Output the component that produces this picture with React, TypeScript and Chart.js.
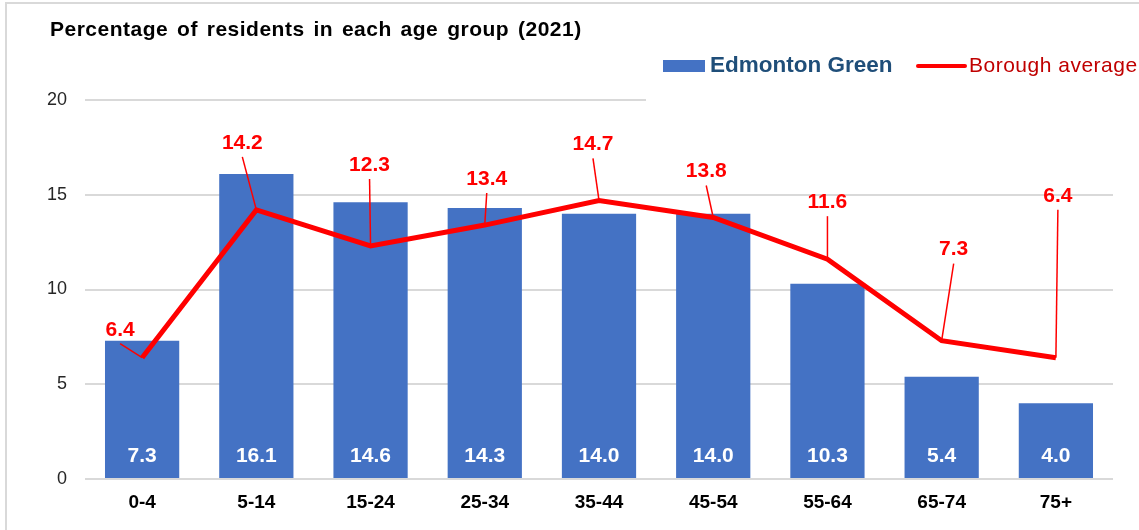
import React, { useEffect, useRef } from "react";
import { Chart, registerables } from "chart.js";

Chart.register(...registerables);

const categories = ["0-4", "5-14", "15-24", "25-34", "35-44", "45-54", "55-64", "65-74", "75+"];
const edmontonGreen = [7.3, 16.1, 14.6, 14.3, 14.0, 14.0, 10.3, 5.4, 4.0];
const boroughAverage = [6.4, 14.2, 12.3, 13.4, 14.7, 13.8, 11.6, 7.3, 6.4];
const yMin = 0;
const yMax = 20;
const yStep = 5;

const titleText = "Percentage of residents in each age group (2021)";
const barLegend = "Edmonton Green";
const lineLegend = "Borough average";

// label placement (pixel offsets of the line labels from their points)
const lineLabelOffsets: [number, number][] = [
  [-22, -28], [-14, -67], [-1, -81], [2, -46], [-6, -56], [-7, -46], [0, -57], [12, -91], [2, -162],
];

const FONT = '"Liberation Sans", Arial, sans-serif';
const BAR_COLOR = "#4472c4";
const LINE_COLOR = "#ff0000";

const decorPlugin = {
  id: "decor",
  beforeDraw(chart: any) {
    const ctx = chart.ctx;
    ctx.save();
    ctx.fillStyle = "#ffffff";
    ctx.fillRect(0, 0, chart.width, chart.height);
    ctx.strokeStyle = "#d9d9d9";
    ctx.lineWidth = 2;
    ctx.beginPath();
    ctx.moveTo(6, chart.height);
    ctx.lineTo(6, 3);
    ctx.lineTo(chart.width, 3);
    ctx.stroke();
    ctx.fillStyle = "#000000";
    ctx.font = `bold 21px ${FONT}`;
    ctx.textAlign = "left";
    ctx.textBaseline = "middle";
    (ctx as any).letterSpacing = "0.5px";
    (ctx as any).wordSpacing = "2.5px";
    ctx.fillText(titleText, 50, 30);
    (ctx as any).letterSpacing = "0px";
    (ctx as any).wordSpacing = "0px";
    ctx.restore();
  },
  afterDatasetsDraw(chart: any) {
    const ctx = chart.ctx;
    ctx.save();
    ctx.textAlign = "center";
    ctx.textBaseline = "middle";
    // bar labels
    const barMeta = chart.getDatasetMeta(0);
    ctx.font = `bold 21px ${FONT}`;
    ctx.fillStyle = "#ffffff";
    barMeta.data.forEach((bar: any, i: number) => {
      ctx.fillText(edmontonGreen[i].toFixed(1), bar.x, bar.base - 22);
    });
    // line labels with leader lines
    const lineMeta = chart.getDatasetMeta(1);
    ctx.strokeStyle = LINE_COLOR;
    ctx.fillStyle = LINE_COLOR;
    ctx.lineWidth = 1.5;
    lineMeta.data.forEach((pt: any, i: number) => {
      const [dx, dy] = lineLabelOffsets[i];
      const tx = pt.x + dx;
      const ty = pt.y + dy;
      ctx.beginPath();
      ctx.moveTo(tx, ty + 14);
      ctx.lineTo(pt.x, pt.y);
      ctx.stroke();
      ctx.fillText(boroughAverage[i].toFixed(1), tx, ty);
    });
    ctx.restore();
  },
  afterDraw(chart: any) {
    const ctx = chart.ctx;
    ctx.save();
    ctx.fillStyle = "#ffffff";
    ctx.fillRect(646, 45, chart.width - 646, 58);
    ctx.fillStyle = BAR_COLOR;
    ctx.fillRect(663, 60, 42, 12);
    ctx.font = `bold 22.5px ${FONT}`;
    ctx.fillStyle = "#1f4e79";
    ctx.textAlign = "left";
    ctx.textBaseline = "middle";
    ctx.fillText(barLegend, 710, 66);
    ctx.strokeStyle = LINE_COLOR;
    ctx.lineWidth = 4;
    ctx.lineCap = "round";
    ctx.beginPath();
    ctx.moveTo(918, 66);
    ctx.lineTo(965, 66);
    ctx.stroke();
    ctx.font = `21px ${FONT}`;
    ctx.fillStyle = "#c00000";
    (ctx as any).letterSpacing = "0.5px";
    ctx.fillText(lineLegend, 969, 66);
    (ctx as any).letterSpacing = "0px";
    ctx.restore();
  },
};

export default function App() {
  const ref = useRef<HTMLCanvasElement | null>(null);
  useEffect(() => {
    if (!ref.current) return;
    const chart = new Chart(ref.current, {
      type: "bar",
      data: {
        labels: categories,
        datasets: [
          {
            type: "bar",
            label: barLegend,
            data: edmontonGreen,
            backgroundColor: BAR_COLOR,
            barPercentage: 0.65,
            categoryPercentage: 1,
            order: 1,
          },
          {
            type: "line",
            label: lineLegend,
            data: boroughAverage,
            borderColor: LINE_COLOR,
            backgroundColor: LINE_COLOR,
            borderWidth: 5,
            pointRadius: 0,
            tension: 0,
            order: 0,
          } as any,
        ],
      },
      options: {
        responsive: false,
        animation: false,
        devicePixelRatio: 1,
        layout: { padding: { top: 100, left: 0, right: 26, bottom: 0 } },
        plugins: {
          legend: { display: false },
          title: { display: false },
          tooltip: { enabled: false },
        },
        scales: {
          x: {
            grid: { display: false, drawTicks: false },
            border: { display: false },
            ticks: {
              font: { family: FONT, size: 19, weight: "bold" },
              color: "#000000",
              padding: 12,
            },
            afterFit: (scale: any) => {
              scale.height = 51;
            },
          },
          y: {
            min: yMin,
            max: yMax,
            grid: { color: "#d9d9d9", lineWidth: 2, drawTicks: false },
            border: { display: false },
            ticks: {
              stepSize: yStep,
              font: { family: FONT, size: 18 },
              color: "#262626",
              padding: 18,
            },
            afterFit: (scale: any) => {
              scale.width = 85;
            },
          },
        },
      },
      plugins: [decorPlugin],
    });
    return () => chart.destroy();
  }, []);
  return (
    <div style={{ position: "absolute", left: 0, top: 0, width: 1139, height: 530 }}>
      <canvas ref={ref} width={1139} height={530} style={{ display: "block" }} />
    </div>
  );
}
